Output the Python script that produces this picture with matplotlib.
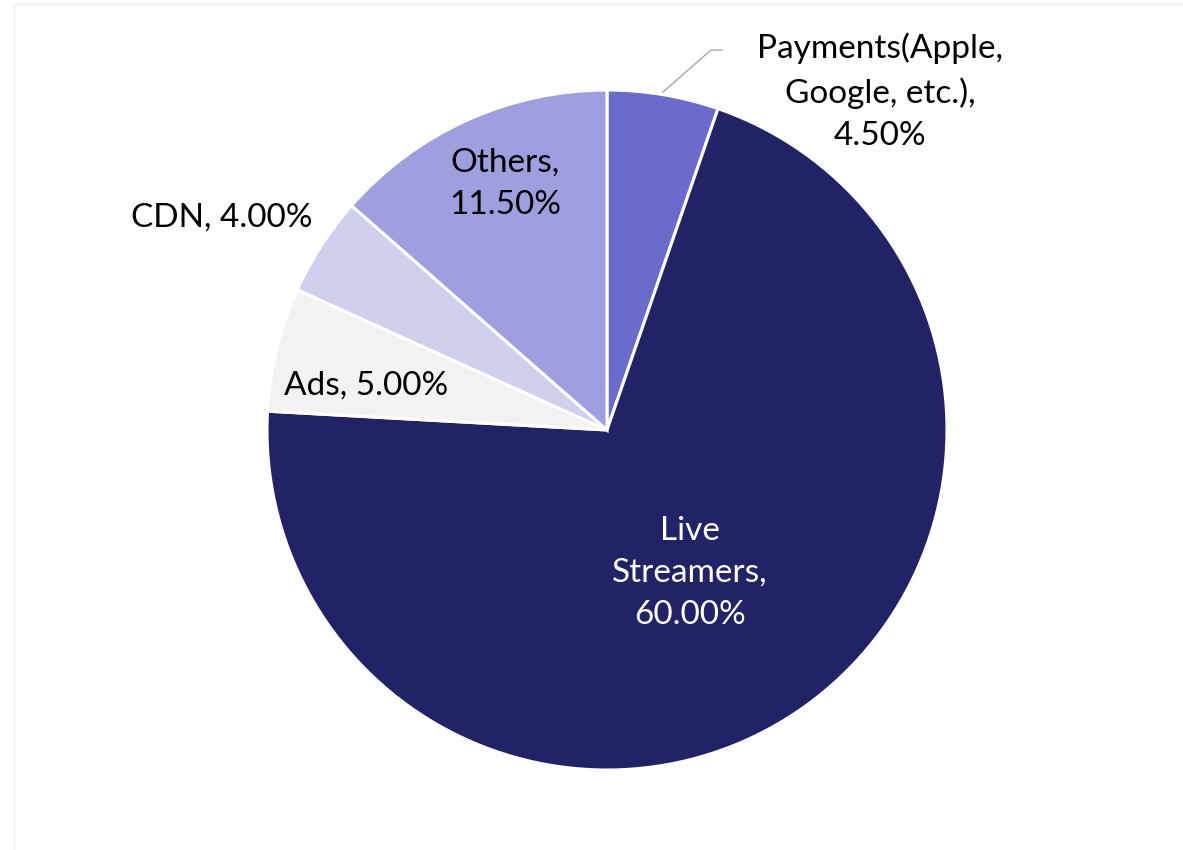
import matplotlib.pyplot as plt

# data, clockwise from 12 o'clock
categories = ['Payments(Apple,\nGoogle, etc.)', 'Live\nStreamers', 'Ads', 'CDN', 'Others']
values = [4.5, 60.0, 5.0, 4.0, 11.5]
colors = ['#6B6BCC', '#222267', '#F2F2F2', '#D0D0EE', '#9F9FDF']

plt.rcParams['font.family'] = ['Lato', 'DejaVu Sans']

fig = plt.figure(figsize=(11.83, 8.5), dpi=100)
# square box so the pie radius is ~340 px
ax = fig.add_axes([267 / 1183, 80 / 850, 680 / 1183, 680 / 850])

wedges, _ = ax.pie(values, colors=colors, startangle=90, counterclock=False,
                   radius=1.0, wedgeprops=dict(edgecolor='white', linewidth=2.2))
ax.set_xlim(-1, 1)
ax.set_ylim(-1, 1)
ax.axis('off')

fs = 24
label_pos = [(0.803, 0.995), (0.244, -0.42), (-0.709, 0.132), (-1.132, 0.625), (-0.30, 0.725)]
text_colors = ['black', 'white', 'black', 'black', 'black']
two_line = ['Others']  # these put the value on its own line
for name, v, (x, y), c in zip(categories, values, label_pos, text_colors):
    if '\n' in name or name in two_line:
        txt = name + ',\n%.2f%%' % v
    else:
        txt = name + ', %.2f%%' % v
    ax.text(x, y, txt, ha='center', va='center', fontsize=fs, color=c,
            linespacing=1.5, clip_on=False)

# leader line for the payments slice
ax.plot([(663 - 607) / 340, (711 - 607) / 340, (722 - 607) / 340],
        [(430 - 92) / 340, (430 - 50) / 340, (430 - 50) / 340],
        color='#A6A6A6', linewidth=1.0, clip_on=False)

# faint outer frame seen on the left and top edges
fig.add_artist(plt.Line2D([14 / 1183, 14 / 1183], [0, 1 - 4 / 850],
                          transform=fig.transFigure, color='#EEEEEE', linewidth=1))
fig.add_artist(plt.Line2D([14 / 1183, 1], [1 - 4 / 850, 1 - 4 / 850],
                          transform=fig.transFigure, color='#EEEEEE', linewidth=1))

fig.savefig('out.png', dpi=100)
plt.close(fig)
